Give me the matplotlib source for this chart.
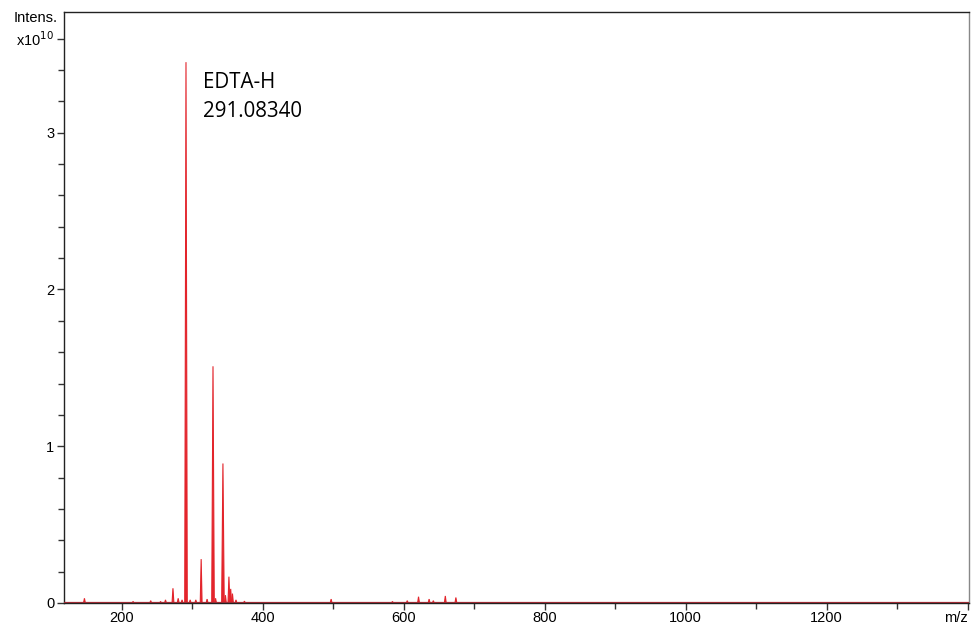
import matplotlib
matplotlib.use("Agg")
import matplotlib.pyplot as plt
import numpy as np

# peak list: m/z centres and intensities (x1e10)
mz = [147.0, 216.0, 241.0, 255.0, 262.0, 272.6, 280.0, 285.5, 291.08, 297.0, 305.0,
      312.6, 321.0, 329.4, 333.0, 343.5, 347.0, 352.0, 354.5, 357.0, 362.0, 374.0,
      497.0, 584.0, 605.0, 621.0, 636.0, 642.0, 659.0, 674.0]
intensity = [0.03, 0.01, 0.015, 0.01, 0.02, 0.094, 0.03, 0.02, 3.45, 0.02, 0.02,
             0.28, 0.025, 1.51, 0.03, 0.89, 0.05, 0.168, 0.09, 0.06, 0.02, 0.012,
             0.025, 0.01, 0.015, 0.04, 0.025, 0.015, 0.045, 0.035]

label_name = "EDTA-H"
label_mz = 291.08340

red = "#e3242b"

fig = plt.figure(figsize=(9.71, 6.26), dpi=100)
ax = fig.add_axes([64 / 971, 23 / 626, 905 / 971, 591 / 626])

# each peak as a narrow profile
for c, h in zip(mz, intensity):
    w = 1.8 if h > 0.5 else 1.3
    ax.fill([c - w, c, c + w], [0, h, 0], color=red, lw=0.8, ec=red)

ax.axhline(0, color="#9c2a33", lw=1.6, zorder=3)

ax.text(315, 3.39, f"{label_name}\n{label_mz:.5f}", fontsize=14.8,
        family="Open Sans", va="top", ha="left", linespacing=1.5)

ax.set_xlim(118, 1402)
ax.set_ylim(0, 3.77)

xt = [200, 400, 600, 800, 1000, 1200, 1400]
ax.set_xticks(xt)
ax.set_xticklabels(["200", "400", "600", "800", "1000", "1200", "m/z"])
ax.set_xticks(np.arange(300, 1400, 200), minor=True)

yt = [0, 1, 2, 3, 3.6]
ax.set_yticks(yt)
ax.set_yticklabels(["0", "1", "2", "3", "x10$^{10}$"])
ax.set_yticks([v for v in np.arange(0.2, 3.5, 0.2) if abs(v - round(v)) > 1e-6],
              minor=True)

for t in ax.get_xticklabels() + ax.get_yticklabels():
    t.set_family("Liberation Sans")
    t.set_fontsize(10.5)
ax.get_xticklabels()[-1].set_horizontalalignment("right")

ax.tick_params(which="major", direction="out", length=5, width=1, color="#333333", pad=2)
ax.tick_params(which="minor", direction="out", length=4, width=1, color="#333333")
ax.tick_params(axis="x", pad=1)

for s in ["left", "bottom", "top"]:
    ax.spines[s].set_linewidth(1)
    ax.spines[s].set_color("#222222")
ax.spines["right"].set_linewidth(1)
ax.spines["right"].set_color("#888888")

fig.text(58 / 971, 1 - 18 / 626, "Intens.", ha="right", va="center",
         fontsize=10.5, family="Liberation Sans")

fig.savefig("out.png", dpi=100, facecolor="white")
